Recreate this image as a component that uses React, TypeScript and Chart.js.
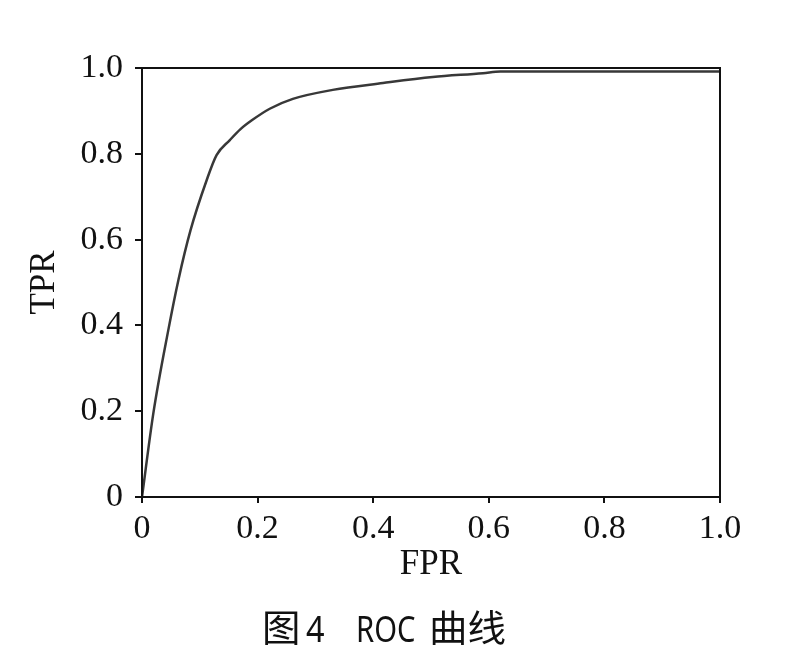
import React, { useEffect, useRef } from 'react';
import { Chart, registerables } from 'chart.js';

Chart.register(...registerables);

// ROC curve points
const fpr = [0, 0.0196, 0.0455, 0.063, 0.084, 0.112, 0.129, 0.152, 0.17, 0.19, 0.221, 0.261, 0.33, 0.417, 0.503, 0.59, 0.62, 1.0];
const tpr = [0, 0.195, 0.389, 0.506, 0.622, 0.739, 0.797, 0.832, 0.857, 0.878, 0.905, 0.928, 0.949, 0.965, 0.979, 0.988, 0.992, 0.992];

const xTicks = [0, 0.2, 0.4, 0.6, 0.8, 1.0];
const xTickLabels = ['0', '0.2', '0.4', '0.6', '0.8', '1.0'];
const yTicks = [0, 0.2, 0.4, 0.6, 0.8, 1.0];
const yTickLabels = ['0', '0.2', '0.4', '0.6', '0.8', '1.0'];

const xTitle = 'FPR';
const yTitle = 'TPR';
const captionParts = ['图', '4', 'ROC', '曲线'];

const SERIF = "'Liberation Serif', 'Times New Roman', serif";
const CJK = "'Noto Sans CJK SC', sans-serif";
const SANS = "'Noto Sans', 'Noto Sans CJK SC', sans-serif";

export default function App() {
  const ref = useRef<HTMLCanvasElement>(null);

  useEffect(() => {
    document.body.style.margin = '0';
    const canvas = ref.current;
    if (!canvas) return;

    const framePlugin = {
      id: 'frame',
      afterDraw(chart: any) {
        const { ctx, chartArea } = chart;
        ctx.save();
        ctx.strokeStyle = '#111';
        ctx.lineWidth = 2;
        ctx.strokeRect(chartArea.left, chartArea.top, chartArea.right - chartArea.left, chartArea.bottom - chartArea.top);
        ctx.restore();
      },
    };

    const captionPlugin = {
      id: 'caption',
      afterDraw(chart: any) {
        const { ctx } = chart;
        ctx.fillStyle = '#111';
        ctx.textBaseline = 'alphabetic';
        ctx.textAlign = 'left';
        const baseY = 642;
        const fonts = [`37px ${CJK}`, `36px ${SANS}`, `37px ${SANS}`, `37px ${CJK}`];
        const lefts = [262, 306, 356, 429];
        const xScale = [1.04, 0.9, 0.79, 1.04];
        captionParts.forEach((t, i) => {
          ctx.save();
          ctx.font = fonts[i];
          ctx.translate(lefts[i], baseY);
          ctx.scale(xScale[i], 1);
          ctx.fillText(t, 0, 0);
          ctx.restore();
        });
      },
    };

    const chart = new Chart(canvas, {
      type: 'line',
      data: {
        datasets: [
          {
            data: fpr.map((x, i) => ({ x, y: tpr[i] })),
            borderColor: '#383838',
            borderWidth: 2.5,
            pointRadius: 0,
            cubicInterpolationMode: 'monotone',
            fill: false,
          },
        ],
      },
      options: {
        responsive: false,
        animation: false,
        devicePixelRatio: 1,
        layout: { padding: { top: 68, right: 77, bottom: 75, left: 0 } },
        plugins: {
          legend: { display: false },
          tooltip: { enabled: false },
          title: { display: false },
        },
        scales: {
          x: {
            type: 'linear',
            min: 0,
            max: 1,
            afterBuildTicks: (s: any) => {
              s.ticks = xTicks.map((v) => ({ value: v }));
            },
            afterFit: (s: any) => {
              s.height = 85;
            },
            ticks: {
              autoSkip: false,
              maxRotation: 0,
              padding: 6,
              color: '#111',
              font: { family: SERIF, size: 34 },
              callback: (_v: any, i: number) => xTickLabels[i],
            },
            grid: {
              display: true,
              drawOnChartArea: false,
              drawTicks: true,
              tickLength: 6,
              color: '#111',
              lineWidth: 2,
            },
            border: { display: false },
            title: {
              display: true,
              text: xTitle,
              color: '#111',
              font: { family: SERIF, size: 35, lineHeight: 1 },
              padding: { top: 0, bottom: 0 },
            },
          },
          y: {
            type: 'linear',
            min: 0,
            max: 1,
            afterBuildTicks: (s: any) => {
              s.ticks = yTicks.map((v) => ({ value: v }));
            },
            afterFit: (s: any) => {
              s.width = 142;
            },
            ticks: {
              autoSkip: false,
              padding: 12,
              color: '#111',
              font: { family: SERIF, size: 34 },
              callback: (_v: any, i: number) => yTickLabels[i],
            },
            grid: {
              display: true,
              drawOnChartArea: false,
              drawTicks: true,
              tickLength: 7,
              color: '#111',
              lineWidth: 2,
            },
            border: { display: false },
            title: {
              display: true,
              text: yTitle,
              color: '#111',
              font: { family: SERIF, size: 35, lineHeight: 1 },
              padding: { top: 27, bottom: 0 },
            },
          },
        },
      },
      plugins: [framePlugin, captionPlugin],
    } as any);

    return () => chart.destroy();
  }, []);

  return <canvas ref={ref} width={797} height={657} style={{ display: 'block' }} />;
}
